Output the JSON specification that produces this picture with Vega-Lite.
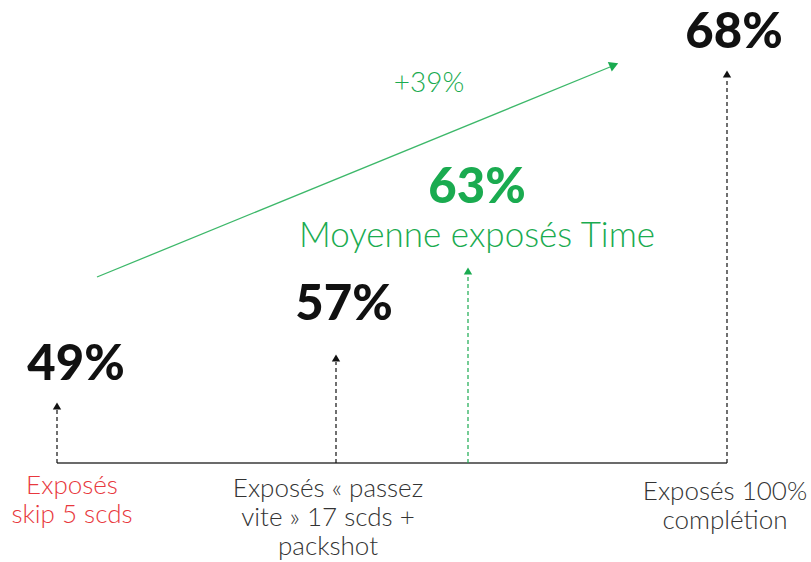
{
  "$schema": "https://vega.github.io/schema/vega-lite/v6.json",
  "width": 811,
  "height": 562,
  "padding": 0,
  "autosize": {"type": "fit", "contains": "padding"},
  "background": "white",
  "config": {"view": {"stroke": null}},
  "datasets": {
    "base": [{"x": 57, "x2": 727, "y": 99}],
    "stems": [
      {"x": 57, "y": 99, "y2": 152, "tip": 156, "kind": "black"},
      {"x": 336, "y": 99, "y2": 200, "tip": 204, "kind": "black"},
      {"x": 468, "y": 99, "y2": 287, "tip": 291, "kind": "green"},
      {"x": 727, "y": 99, "y2": 484, "tip": 488, "kind": "black"}
    ],
    "trend": [{"x": 97, "y": 285}, {"x": 610, "y": 495}],
    "trendTip": [{"x": 614, "y": 497}],
    "values": [
      {"x": 76, "y": 182, "label": "49%", "kind": "black"},
      {"x": 344, "y": 242, "label": "57%", "kind": "black"},
      {"x": 477, "y": 359, "label": "63%", "kind": "green"},
      {"x": 734, "y": 514, "label": "68%", "kind": "black"}
    ],
    "notes": [
      {"x": 477, "y": 315, "label": "Moyenne exposés Time", "size": 35},
      {"x": 429, "y": 470, "label": "+39%", "size": 28}
    ],
    "cats": [
      {"x": 72, "y": 68, "label": "Exposés\nskip 5 scds", "kind": "red"},
      {"x": 328, "y": 65, "label": "Exposés « passez\nvite » 17 scds +\npackshot", "kind": "dark"},
      {"x": 725, "y": 62, "label": "Exposés 100%\ncomplétion", "kind": "dark"}
    ]
  },
  "layer": [
    {
      "data": {"name": "base"},
      "mark": {"type": "rule", "color": "#3a3a3a", "strokeWidth": 1.5},
      "encoding": {
        "x": {"field": "x", "type": "quantitative", "scale": {"domain": [0, 811], "nice": false, "zero": false}, "axis": null},
        "x2": {"field": "x2"},
        "y": {"field": "y", "type": "quantitative", "scale": {"domain": [0, 562], "nice": false, "zero": false}, "axis": null}
      }
    },
    {
      "data": {"name": "stems"},
      "mark": {"type": "rule", "strokeWidth": 1.2, "strokeDash": [4, 3]},
      "encoding": {
        "x": {"field": "x", "type": "quantitative"},
        "y": {"field": "y", "type": "quantitative"},
        "y2": {"field": "y2"},
        "color": {"field": "kind", "type": "nominal", "scale": {"domain": ["black", "green", "red", "dark"], "range": ["#111111", "#1aab50", "#e8383d", "#333333"]}, "legend": null}
      }
    },
    {
      "data": {"name": "stems"},
      "mark": {"type": "point", "shape": "triangle-up", "filled": true, "size": 70, "opacity": 1},
      "encoding": {
        "x": {"field": "x", "type": "quantitative"},
        "y": {"field": "tip", "type": "quantitative"},
        "color": {"field": "kind", "type": "nominal", "legend": null}
      }
    },
    {
      "data": {"name": "trend"},
      "mark": {"type": "line", "color": "#3db86a", "strokeWidth": 1.3},
      "encoding": {
        "x": {"field": "x", "type": "quantitative"},
        "y": {"field": "y", "type": "quantitative"}
      }
    },
    {
      "data": {"name": "trendTip"},
      "mark": {"type": "point", "shape": "triangle-up", "filled": true, "size": 110, "opacity": 1, "color": "#1aab50", "angle": 67.6},
      "encoding": {
        "x": {"field": "x", "type": "quantitative"},
        "y": {"field": "y", "type": "quantitative"}
      }
    },
    {
      "data": {"name": "values"},
      "mark": {"type": "text", "font": "Lato", "fontWeight": 900, "fontSize": 49, "align": "center", "baseline": "alphabetic"},
      "encoding": {
        "x": {"field": "x", "type": "quantitative"},
        "y": {"field": "y", "type": "quantitative"},
        "text": {"field": "label"},
        "color": {"field": "kind", "type": "nominal", "legend": null}
      }
    },
    {
      "data": {"name": "notes"},
      "mark": {"type": "text", "font": "Lato", "fontWeight": 300, "align": "center", "baseline": "alphabetic", "color": "#1aab50"},
      "encoding": {
        "x": {"field": "x", "type": "quantitative"},
        "y": {"field": "y", "type": "quantitative"},
        "text": {"field": "label"},
        "size": {"field": "size", "type": "quantitative", "scale": null}
      }
    },
    {
      "data": {"name": "cats"},
      "mark": {"type": "text", "font": "Lato", "fontWeight": 300, "fontSize": 26, "align": "center", "baseline": "alphabetic", "lineBreak": "\n", "lineHeight": 29},
      "encoding": {
        "x": {"field": "x", "type": "quantitative"},
        "y": {"field": "y", "type": "quantitative"},
        "text": {"field": "label"},
        "color": {"field": "kind", "type": "nominal", "legend": null}
      }
    }
  ]
}
